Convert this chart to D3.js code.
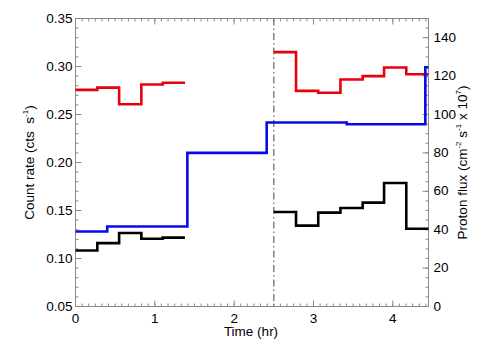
<!DOCTYPE html>
<html>
<head>
<meta charset="utf-8">
<script src="https://cdn.jsdelivr.net/npm/d3@7"></script>
<style>
  body { margin: 0; background: #fff; }
  text { font-family: "Liberation Sans", Arial, Helvetica, sans-serif; fill: #000; white-space: pre; }
</style>
</head>
<body>
<svg id="chart"></svg>
<script>
// Bin edges (hours) and values
const edgesA = [0, 0.275, 0.55, 0.83, 1.1, 1.38];
const redA = [0.2757, 0.278, 0.2606, 0.2813, 0.283];
const blackA = [0.1084, 0.116, 0.1265, 0.1206, 0.1217];

const edgesB = [2.5, 2.78, 3.06, 3.34, 3.62, 3.89, 4.17, 4.45];
const redB = [0.315, 0.2746, 0.2726, 0.2865, 0.290, 0.299, 0.292];
const blackB = [0.1484, 0.1342, 0.1478, 0.1526, 0.1582, 0.1787, 0.131];

// Proton flux (right axis)
const edgesFlux = [0, 0.4, 1.41, 2.41, 3.42, 4.41, 4.45];
const flux = [39.1, 41.7, 80.0, 95.8, 94.9, 124.6];

const xTicks = [0, 1, 2, 3, 4];
const leftTicks = [0.05, 0.10, 0.15, 0.20, 0.25, 0.30, 0.35];
const rightTicks = [0, 20, 40, 60, 80, 100, 120, 140];
const markTime = 2.5;

const W = 504, H = 360;
const x0 = 75.5, x1 = 428.5, yTop = 18.5, yBot = 306.5;

const svg = d3.select("#chart").attr("width", W).attr("height", H);
svg.append("rect").attr("width", W).attr("height", H).attr("fill", "#fff");

const x = d3.scaleLinear().domain([0, 4.45]).range([x0, x1]);
const yL = d3.scaleLinear().domain([0.05, 0.35]).range([yBot, yTop]);
const yR = d3.scaleLinear().domain([0, 150]).range([yBot, yTop]);

const axisColor = "#8a8a8a";

// ticks helper: inward ticks
function minorRange(a, b, step) {
  const out = [];
  const n = Math.round((b - a) / step);
  for (let i = 0; i <= n; i++) out.push(a + i * step);
  return out;
}

const g = svg.append("g");

// bottom and top axis
const xMinor = minorRange(0, 4.45, 1 / 12);
g.selectAll(".xminor").data(xMinor).enter().append("line")
  .attr("x1", d => x(d)).attr("x2", d => x(d))
  .attr("y1", yBot).attr("y2", yBot - 3)
  .attr("stroke", axisColor);
g.selectAll(".xminorTop").data(xMinor).enter().append("line")
  .attr("x1", d => x(d)).attr("x2", d => x(d))
  .attr("y1", yTop).attr("y2", yTop + 3)
  .attr("stroke", axisColor);
g.selectAll(".xmajor").data(xTicks).enter().append("line")
  .attr("x1", d => x(d)).attr("x2", d => x(d))
  .attr("y1", yBot).attr("y2", yBot - 6)
  .attr("stroke", axisColor);
g.selectAll(".xmajorTop").data(xTicks).enter().append("line")
  .attr("x1", d => x(d)).attr("x2", d => x(d))
  .attr("y1", yTop).attr("y2", yTop + 6)
  .attr("stroke", axisColor);
g.selectAll(".xlab").data(xTicks).enter().append("text")
  .attr("x", d => x(d)).attr("y", yBot + 16)
  .attr("text-anchor", "middle").attr("font-size", 13.5)
  .text(d => d);

// left axis
const yLMinor = minorRange(0.05, 0.35, 0.01);
g.selectAll(".ylminor").data(yLMinor).enter().append("line")
  .attr("x1", x0).attr("x2", x0 + 3)
  .attr("y1", d => yL(d)).attr("y2", d => yL(d))
  .attr("stroke", axisColor);
g.selectAll(".ylmajor").data(leftTicks).enter().append("line")
  .attr("x1", x0).attr("x2", x0 + 6)
  .attr("y1", d => yL(d)).attr("y2", d => yL(d))
  .attr("stroke", axisColor);
g.selectAll(".yllab").data(leftTicks).enter().append("text")
  .attr("x", x0 - 3).attr("y", d => yL(d) + 4)
  .attr("text-anchor", "end").attr("font-size", 13.5)
  .text(d => d3.format(".2f")(d));

// right axis
const yRMinor = minorRange(0, 150, 5);
g.selectAll(".yrminor").data(yRMinor).enter().append("line")
  .attr("x1", x1).attr("x2", x1 - 3)
  .attr("y1", d => yR(d)).attr("y2", d => yR(d))
  .attr("stroke", axisColor);
g.selectAll(".yrmajor").data(rightTicks).enter().append("line")
  .attr("x1", x1).attr("x2", x1 - 6)
  .attr("y1", d => yR(d)).attr("y2", d => yR(d))
  .attr("stroke", axisColor);
g.selectAll(".yrlab").data(rightTicks).enter().append("text")
  .attr("x", x1 + 5).attr("y", d => yR(d) + 4)
  .attr("text-anchor", "start").attr("font-size", 13.5)
  .text(d => d);

// frame
g.append("rect")
  .attr("x", x0).attr("y", yTop)
  .attr("width", x1 - x0).attr("height", yBot - yTop)
  .attr("fill", "none").attr("stroke", axisColor);

// dash-dot marker
g.append("line")
  .attr("x1", x(markTime)).attr("x2", x(markTime))
  .attr("y1", yTop).attr("y2", yBot)
  .attr("stroke", "#666").attr("stroke-width", 1.2)
  .attr("stroke-dasharray", "7,3,1.5,3");

// step series
function stepPoints(edges, vals) {
  return edges.map((e, i) => [e, vals[Math.min(i, vals.length - 1)]]);
}
function drawStep(edges, vals, yScale, color) {
  const line = d3.line()
    .x(d => x(d[0]))
    .y(d => yScale(d[1]))
    .curve(d3.curveStepAfter);
  g.append("path")
    .datum(stepPoints(edges, vals))
    .attr("d", line)
    .attr("fill", "none")
    .attr("stroke", color)
    .attr("stroke-width", 2.6);
}

drawStep(edgesA, redA, yL, "#e8000b");
drawStep(edgesB, redB, yL, "#e8000b");
drawStep(edgesA, blackA, yL, "#000");
drawStep(edgesB, blackB, yL, "#000");
drawStep(edgesFlux, flux, yR, "#0a0ae6");

// axis titles
g.append("text")
  .attr("x", 251).attr("y", 336)
  .attr("text-anchor", "middle").attr("font-size", 13.5)
  .text("Time (hr)");

const lt = g.append("text")
  .attr("transform", `translate(34,${(yTop + yBot) / 2}) rotate(-90)`)
  .attr("text-anchor", "middle").attr("font-size", 13.5);
lt.append("tspan").text("Count rate (cts  s");
lt.append("tspan").attr("font-size", 8).attr("dy", -6).text("-1");
lt.append("tspan").attr("dy", 6).text(")");

const rt = g.append("text")
  .attr("transform", `translate(467,${(yTop + yBot) / 2}) rotate(-90)`)
  .attr("text-anchor", "middle").attr("font-size", 13.5);
rt.append("tspan").text("Proton flux (cm");
rt.append("tspan").attr("font-size", 8).attr("dy", -6).text("-2");
rt.append("tspan").attr("dy", 6).text(" s");
rt.append("tspan").attr("font-size", 8).attr("dy", -6).text("-1");
rt.append("tspan").attr("dy", 6).text(" x 10");
rt.append("tspan").attr("font-size", 8).attr("dy", -6).text("7");
rt.append("tspan").attr("dy", 6).text(")");
</script>
</body>
</html>
